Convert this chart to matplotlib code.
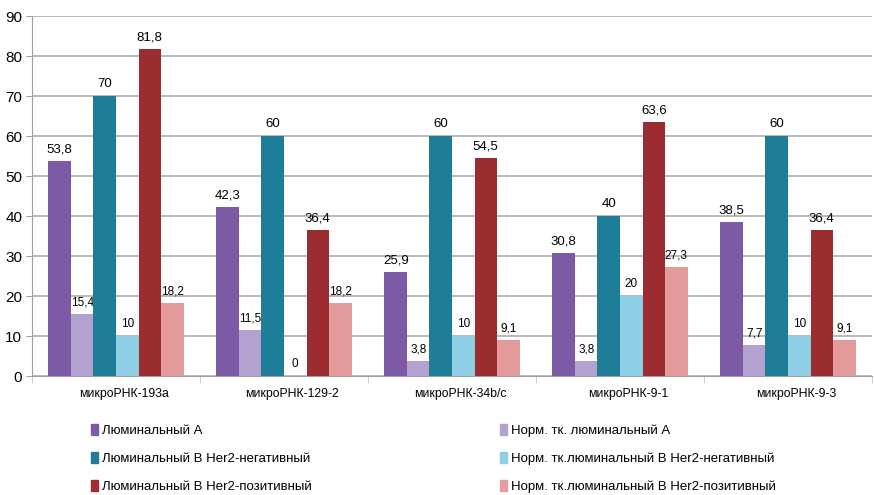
import numpy as np
import matplotlib.pyplot as plt
from matplotlib.patches import Patch

plt.rcParams['font.family'] = ['Liberation Sans', 'DejaVu Sans']

categories = ['микроРНК-193a', 'микроРНК-129-2', 'микроРНК-34b/c', 'микроРНК-9-1', 'микроРНК-9-3']
series_names = ['Люминальный А', 'Норм. тк. люминальный А',
                'Люминальный В Her2-негативный', 'Норм. тк.люминальный В Her2-негативный',
                'Люминальный В Her2-позитивный', 'Норм. тк.люминальный В Her2-позитивный']
lum_a = [53.8, 42.3, 25.9, 30.8, 38.5]
norm_a = [15.4, 11.5, 3.8, 3.8, 7.7]
lum_b_neg = [70, 60, 60, 40, 60]
norm_b_neg = [10, 0, 10, 20, 10]
lum_b_pos = [81.8, 36.4, 54.5, 63.6, 36.4]
norm_b_pos = [18.2, 18.2, 9.1, 27.3, 9.1]
series = [lum_a, norm_a, lum_b_neg, norm_b_neg, lum_b_pos, norm_b_pos]
colors = ['#7d5aa6', '#b3a2cf', '#1f7e97', '#8fcfe6', '#9b2c2f', '#e39b9b']

fig = plt.figure(figsize=(8.74, 4.95), dpi=100)
ax = fig.add_axes([32 / 874, 119 / 495, 840 / 874, 360 / 495])

x = np.arange(len(categories))
w = 0.134
for i, (vals, c) in enumerate(zip(series, colors)):
    pos = x + (i - 2.5) * w
    ax.bar(pos, vals, w, color=c, zorder=3)
    small = i % 2 == 1
    for p, v in zip(pos, vals):
        ax.annotate(f'{v:g}'.replace('.', ','), (p, v), xytext=(0, 4),
                    textcoords='offset points', ha='center', va='bottom',
                    fontsize=8.5 if small else 9.5,
                    family=['Liberation Sans Narrow', 'Liberation Sans'] if small else None)

ax.set_xlim(-0.5, 4.5)
ax.set_ylim(0, 90)
ax.set_yticks(range(0, 91, 10))
ax.set_xticks(x + 0.05)
ax.set_xticklabels(categories, fontsize=8.8)
ax.set_xticks(np.arange(-0.5, 4.6, 1), minor=True)
ax.tick_params(axis='x', which='major', length=0, pad=9)
ax.tick_params(axis='x', which='minor', length=5, color='#c8c8c8')
ax.tick_params(axis='y', length=4, color='#a0a0a0', labelsize=11, pad=3)
ax.grid(axis='y', color='#b4b4b4', lw=1.3, zorder=0)
for s in ['top', 'right']:
    ax.spines[s].set_visible(False)
ax.spines['left'].set_color('#a0a0a0')
ax.spines['bottom'].set_color('#a0a0a0')

handles = [Patch(color=c) for c in colors]
leg_kw = dict(frameon=False, loc='upper left', borderpad=0, borderaxespad=0,
              handlelength=0.55, handleheight=0.85, handletextpad=0.25, labelspacing=1.15,
              prop={'family': ['Liberation Sans Narrow', 'Liberation Sans'], 'size': 9.5})
fig.legend([handles[0], handles[2], handles[4]],
           [series_names[0], series_names[2], series_names[4]],
           bbox_to_anchor=(91 / 874, 1 - 424 / 495), **leg_kw)
fig.legend([handles[1], handles[3], handles[5]],
           [series_names[1], series_names[3], series_names[5]],
           bbox_to_anchor=(500 / 874, 1 - 424 / 495), **leg_kw)

fig.savefig('out.png', dpi=100)
